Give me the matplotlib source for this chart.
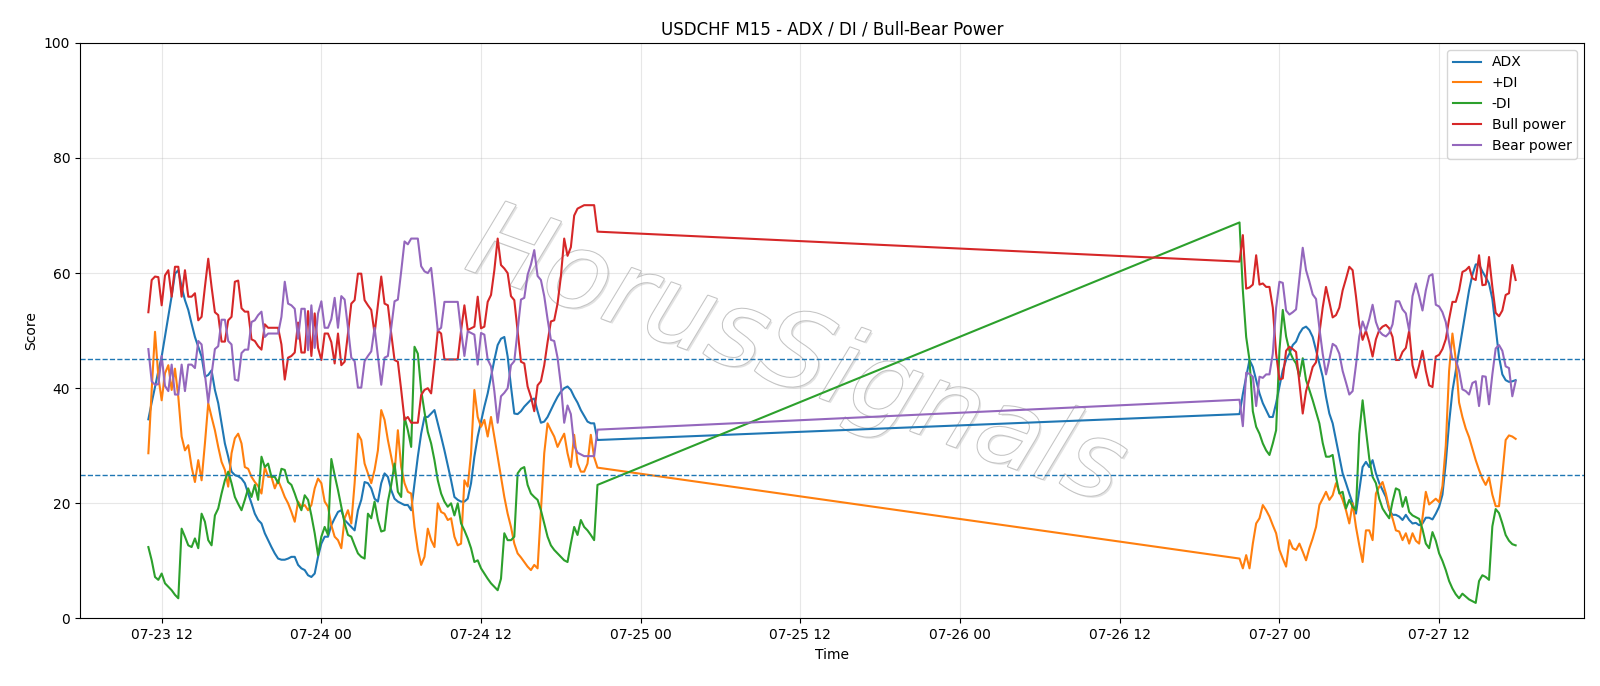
import pandas as pd
import matplotlib
matplotlib.use("Agg")
import matplotlib.pyplot as plt
import matplotlib.dates as mdates
import matplotlib.patheffects as pe

# M15 bars: Thu 07-23 11:00 .. Fri 07-24 20:45, then Sun 07-26 21:00 .. Mon 07-27 17:45
start_1 = "2020-07-23 11:00"
start_2 = "2020-07-26 21:00"

adx_1 = [34.6, 37.5, 40.2, 43.0, 45.5, 49.0, 52.4, 56.0, 59.9, 60.5,
         57.6, 55.3, 53.6, 51.2, 48.9, 47.2, 45.5, 42.0, 42.3, 43.1,
         39.7, 37.4, 33.9, 30.4, 28.1, 25.5, 24.9, 24.7, 24.3, 23.5,
         21.7, 20.0, 18.2, 17.1, 16.5, 14.8, 13.6, 12.4, 11.3, 10.4,
         10.2, 10.2, 10.4, 10.7, 10.7, 9.3, 8.7, 8.4, 7.5, 7.2,
         7.8, 10.7, 13.0, 14.2, 14.2, 16.2, 17.4, 18.5, 18.8, 17.1,
         16.5, 15.9, 15.3, 18.8, 20.6, 23.7, 23.5, 22.6, 20.8, 20.3,
         23.5, 25.2, 24.6, 22.3, 20.8, 20.3, 20.0, 19.7, 19.7, 18.8,
         23.5, 28.1, 32.1, 35.0, 35.0, 35.6, 36.2, 33.9, 31.6, 29.2,
         26.6, 24.0, 21.1, 20.6, 20.3, 20.3, 20.8, 23.5, 28.1, 31.6,
         34.2, 36.8, 39.1, 42.0, 44.9, 47.5, 48.6, 48.9, 45.5, 40.3,
         35.6, 35.5, 36.0, 36.8, 37.4, 38.0, 38.2, 36.0, 34.0, 34.2,
         35.0, 36.2, 37.4, 38.5, 39.4, 40.0, 40.3, 39.7, 38.5, 37.5,
         36.2, 35.2, 34.2, 33.9, 33.9, 31.0]
adx_2 = [35.5, 39.0, 42.0, 44.9, 43.7, 41.4, 39.1, 37.4, 36.2, 35.0,
         35.0, 37.4, 40.3, 43.1, 44.9, 46.0, 47.5, 48.1, 49.5, 50.4,
         50.7, 50.1, 48.9, 46.6, 44.3, 42.0, 38.5, 35.6, 33.9, 31.0,
         28.1, 25.2, 23.5, 21.7, 20.0, 18.2, 22.3, 26.3, 27.2, 26.3,
         27.5, 25.2, 23.5, 22.3, 21.1, 18.8, 18.0, 18.0, 17.7, 17.1,
         18.0, 17.1, 16.5, 16.6, 16.2, 16.5, 17.5, 17.5, 17.2, 18.2,
         19.4, 21.5, 27.0, 34.0, 39.5, 43.0, 46.5, 50.0, 53.5, 57.0,
         59.7, 61.5, 61.5, 60.3, 59.3, 58.2, 55.5, 50.5, 45.5, 42.4,
         41.4, 41.1, 41.2, 41.4]

plus_di_1 = [28.7, 39.7, 49.8, 42.0, 37.9, 42.6, 44.0, 39.7, 43.4, 38.5,
             31.6, 29.2, 30.1, 26.3, 23.7, 27.5, 24.0, 30.4, 37.4, 35.0,
             32.7, 29.8, 27.2, 25.8, 22.9, 28.7, 31.3, 32.1, 30.4, 26.3,
             26.0, 24.6, 23.7, 23.0, 21.7, 26.3, 24.6, 24.6, 22.6, 24.0,
             22.6, 21.1, 20.0, 18.5, 16.8, 20.3, 19.4, 19.7, 18.8, 19.7,
             22.6, 24.3, 23.5, 20.3, 19.4, 16.2, 14.2, 13.6, 12.2, 17.4,
             18.8, 16.5, 23.5, 32.1, 31.0, 26.9, 25.2, 23.5, 25.8, 29.2,
             36.2, 34.5, 31.0, 28.1, 25.2, 32.7, 26.3, 23.5, 22.0, 21.7,
             15.9, 11.9, 9.3, 10.7, 15.6, 13.6, 12.4, 20.0, 18.5, 18.2,
             17.1, 17.4, 14.2, 12.7, 13.0, 24.0, 22.9, 28.7, 39.7, 35.0,
             33.3, 34.5, 31.6, 35.0, 31.6, 28.1, 24.6, 21.1, 18.2, 15.9,
             13.0, 11.3, 10.6, 9.8, 9.0, 8.4, 9.3, 8.7, 18.8, 28.7,
             33.9, 32.7, 31.6, 29.8, 31.0, 32.1, 28.7, 26.3, 31.9, 27.0,
             25.5, 25.5, 26.9, 31.9, 28.0, 26.2]
plus_di_2 = [10.4, 8.7, 11.0, 8.7, 13.0, 16.5, 17.4, 19.7, 18.8, 17.7,
             16.2, 14.8, 11.9, 10.4, 9.0, 13.6, 12.2, 11.9, 13.0, 11.6,
             10.1, 12.2, 13.9, 15.9, 19.7, 20.8, 22.0, 20.6, 21.4, 23.5,
             22.0, 20.6, 18.8, 16.5, 20.0, 15.9, 12.7, 9.8, 15.3, 15.3,
             13.6, 21.7, 22.9, 23.7, 21.7, 19.1, 17.4, 15.3, 15.1, 13.6,
             14.8, 13.0, 14.8, 13.5, 13.0, 17.5, 22.0, 19.8, 20.3, 20.8,
             20.2, 23.0, 30.0, 43.0, 49.5, 45.0, 37.5, 35.0, 33.0, 31.5,
             29.5, 27.5, 25.8, 24.3, 23.2, 24.5, 21.5, 19.5, 19.5, 25.0,
             31.0, 31.8, 31.6, 31.2]

minus_di_1 = [12.4, 10.1, 7.2, 6.7, 7.8, 6.1, 5.5, 4.9, 4.1, 3.5,
              15.6, 14.2, 12.7, 12.4, 13.9, 12.2, 18.2, 16.8, 13.6, 12.7,
              17.9, 19.1, 21.7, 24.0, 25.5, 23.5, 21.1, 19.9, 18.8, 20.6,
              22.6, 21.1, 23.2, 20.6, 28.1, 26.3, 26.9, 24.6, 24.6, 23.5,
              26.0, 25.8, 23.7, 23.2, 21.7, 20.0, 18.8, 21.4, 20.6, 17.9,
              14.8, 11.0, 14.2, 15.9, 14.5, 27.7, 24.9, 22.3, 19.4, 16.5,
              14.5, 14.2, 12.7, 11.3, 10.7, 10.4, 18.2, 17.4, 20.3, 17.1,
              15.1, 15.3, 20.3, 23.2, 26.9, 22.0, 21.1, 35.0, 32.7, 29.8,
              47.2, 46.0, 39.7, 35.9, 32.4, 30.4, 27.5, 24.0, 21.7, 20.3,
              19.4, 20.0, 17.9, 20.0, 16.5, 15.3, 13.9, 12.2, 9.8, 10.1,
              8.7, 7.8, 6.9, 6.1, 5.5, 4.9, 6.9, 14.8, 13.6, 13.6,
              14.2, 25.2, 26.0, 26.3, 23.2, 21.7, 21.1, 20.6, 18.8, 16.5,
              14.2, 12.7, 11.9, 11.3, 10.7, 10.1, 9.8, 13.0, 15.9, 14.5,
              17.1, 15.9, 15.3, 14.5, 13.6, 23.2]
minus_di_2 = [68.8, 57.0, 48.9, 44.9, 36.0, 33.3, 32.1, 30.4, 29.2, 28.4,
              30.4, 32.7, 46.6, 53.6, 49.0, 46.5, 45.2, 44.3, 42.0, 45.2,
              41.4, 39.7, 37.9, 35.9, 33.9, 30.5, 28.1, 28.1, 28.4, 24.6,
              21.7, 22.0, 19.1, 20.6, 19.4, 18.8, 32.1, 37.9, 32.7, 27.8,
              24.6, 23.5, 20.8, 19.1, 18.2, 17.4, 20.3, 22.6, 22.3, 19.4,
              21.1, 18.5, 17.9, 17.6, 17.3, 15.5, 13.0, 12.2, 15.0, 13.5,
              11.3, 10.0, 8.4, 6.5, 5.2, 4.2, 3.5, 4.3, 3.8, 3.3,
              3.0, 2.7, 6.5, 7.5, 7.2, 6.7, 16.0, 19.0, 18.3, 16.5,
              14.5, 13.5, 12.9, 12.7]

bull_1 = [53.2, 58.8, 59.4, 59.3, 54.4, 59.6, 60.5, 55.9, 61.1, 61.1,
          55.9, 60.5, 55.9, 55.9, 56.5, 51.8, 52.4, 57.6, 62.5, 57.6,
          53.2, 52.7, 48.1, 48.1, 51.8, 52.4, 58.5, 58.7, 53.9, 53.3,
          53.3, 48.5, 48.2, 47.3, 46.7, 51.1, 50.5, 50.5, 50.5, 50.5,
          47.6, 41.5, 45.3, 45.6, 46.2, 51.4, 46.2, 46.2, 53.4, 45.6,
          53.0, 47.0, 44.9, 49.5, 49.5, 48.0, 44.3, 49.5, 44.0, 44.6,
          49.5, 54.7, 55.3, 59.9, 59.9, 55.3, 54.4, 53.6, 49.5, 54.4,
          59.4, 54.7, 54.4, 49.5, 44.9, 44.6, 39.7, 34.5, 35.0, 34.0,
          34.0, 34.0, 38.8, 39.7, 40.0, 39.1, 44.3, 50.0, 49.5, 45.0,
          45.0, 45.0, 45.0, 45.0, 50.0, 54.4, 50.1, 50.4, 50.7, 55.9,
          50.4, 50.7, 55.0, 56.2, 60.5, 66.0, 61.4, 60.8, 60.0, 56.0,
          55.3, 50.0, 44.6, 44.3, 40.3, 38.5, 36.0, 40.5, 41.2, 44.0,
          48.0, 51.6, 51.8, 54.7, 59.4, 66.0, 63.0, 64.5, 70.0, 71.2,
          71.5, 71.8, 71.8, 71.8, 71.8, 67.2]
bull_2 = [62.0, 66.6, 57.3, 57.5, 58.0, 63.1, 58.0, 58.2, 57.6, 57.6,
          54.0, 46.0, 41.5, 41.7, 46.5, 47.2, 46.8, 46.3, 41.0, 35.6,
          39.5, 41.5, 43.7, 44.5, 49.5, 54.0, 57.6, 55.0, 52.3, 52.7,
          54.0, 57.0, 59.0, 61.1, 60.5, 56.0, 51.0, 48.4, 50.0, 48.0,
          45.5, 48.5, 50.1, 50.7, 51.0, 50.4, 48.9, 44.9, 44.9, 46.3,
          47.0, 50.0, 44.0, 41.8, 44.0, 46.5, 43.0, 40.5, 40.2, 45.5,
          45.8, 46.8, 48.5, 52.0, 55.0, 55.0, 57.0, 60.2, 60.5, 61.1,
          59.1, 58.8, 63.1, 57.9, 58.0, 62.8, 57.6, 53.1, 52.5, 53.5,
          56.2, 56.5, 61.4, 58.8]

bear_1 = [46.8, 41.2, 40.6, 40.7, 45.6, 40.4, 39.5, 44.1, 38.9, 38.9,
          44.1, 39.5, 44.1, 44.1, 43.5, 48.2, 47.6, 42.4, 37.5, 42.4,
          46.8, 47.3, 51.9, 51.9, 48.2, 47.6, 41.5, 41.3, 46.1, 46.7,
          46.7, 51.5, 51.8, 52.7, 53.3, 48.9, 49.5, 49.5, 49.5, 49.5,
          52.4, 58.5, 54.7, 54.4, 53.8, 48.6, 53.8, 53.8, 46.6, 54.4,
          47.0, 53.0, 55.1, 50.5, 50.5, 52.0, 55.7, 50.5, 56.0, 55.4,
          50.5, 45.3, 44.7, 40.1, 40.1, 44.7, 45.6, 46.4, 50.5, 45.6,
          40.6, 45.3, 45.6, 50.5, 55.1, 55.4, 60.3, 65.5, 65.0, 66.0,
          66.0, 66.0, 61.2, 60.3, 60.0, 60.9, 55.7, 50.0, 50.5, 55.0,
          55.0, 55.0, 55.0, 55.0, 50.0, 45.6, 49.9, 49.6, 49.3, 44.1,
          49.6, 49.3, 45.0, 43.8, 39.5, 34.0, 38.6, 39.2, 40.0, 44.0,
          44.7, 50.0, 55.4, 55.7, 59.7, 61.5, 64.0, 59.5, 58.8, 56.0,
          52.0, 48.4, 48.2, 45.3, 40.6, 34.0, 37.0, 35.5, 30.0, 28.8,
          28.5, 28.2, 28.2, 28.2, 28.2, 32.8]
bear_2 = [38.0, 33.4, 42.7, 42.5, 42.0, 36.9, 42.0, 41.8, 42.4, 42.4,
          46.0, 54.0, 58.5, 58.3, 53.5, 52.8, 53.2, 53.7, 59.0, 64.4,
          60.5, 58.5, 56.3, 55.5, 50.5, 46.0, 42.4, 45.0, 47.7, 47.3,
          46.0, 43.0, 41.0, 38.9, 39.5, 44.0, 49.0, 51.6, 50.0, 52.0,
          54.5, 51.5, 49.9, 49.3, 49.0, 49.6, 51.1, 55.1, 55.1, 53.7,
          53.0, 50.0, 56.0, 58.2, 56.0, 53.5, 57.0, 59.5, 59.8, 54.5,
          54.2, 53.2, 51.5, 48.0, 45.0, 45.0, 43.0, 39.8, 39.5, 38.9,
          40.9, 41.2, 36.9, 42.1, 42.0, 37.2, 42.4, 46.9, 47.5, 46.5,
          43.8, 43.5, 38.6, 41.2]

levels = [25, 45]

t = pd.date_range(start_1, periods=len(adx_1), freq="15min").append(
    pd.date_range(start_2, periods=len(adx_2), freq="15min"))

fig, ax = plt.subplots(figsize=(16, 6.86), dpi=100)
fig.subplots_adjust(left=0.05, right=0.99, top=0.9375, bottom=0.0985)

# watermark
ax.text(0.476, 0.452, "HorusSignals", transform=ax.transAxes, fontsize=76,
        style="italic", rotation=-20, ha="center", va="center",
        color="white", zorder=0.5,
        path_effects=[pe.withSimplePatchShadow(offset=(1.5, -1.5), shadow_rgbFace="#c0c0c0", alpha=0.45),
                      pe.withStroke(linewidth=1.5, foreground="#c4c4c4")])

ax.plot(t, adx_1 + adx_2, label="ADX")
ax.plot(t, plus_di_1 + plus_di_2, label="+DI")
ax.plot(t, minus_di_1 + minus_di_2, label="-DI")
ax.plot(t, bull_1 + bull_2, label="Bull power", color="#d62728")
ax.plot(t, bear_1 + bear_2, label="Bear power", color="#9467bd")

for lv in levels:
    ax.axhline(lv, linestyle="--", linewidth=1, color="#1f77b4")

ax.set_ylim(0, 100)
ax.xaxis.set_major_locator(mdates.HourLocator(byhour=[0, 12]))
ax.xaxis.set_major_formatter(mdates.DateFormatter("%m-%d %H"))
ax.grid(True, alpha=0.3)
ax.set_title("USDCHF M15 - ADX / DI / Bull-Bear Power")
ax.set_xlabel("Time")
ax.set_ylabel("Score")
ax.legend(loc="upper right")

fig.savefig("out.png")
